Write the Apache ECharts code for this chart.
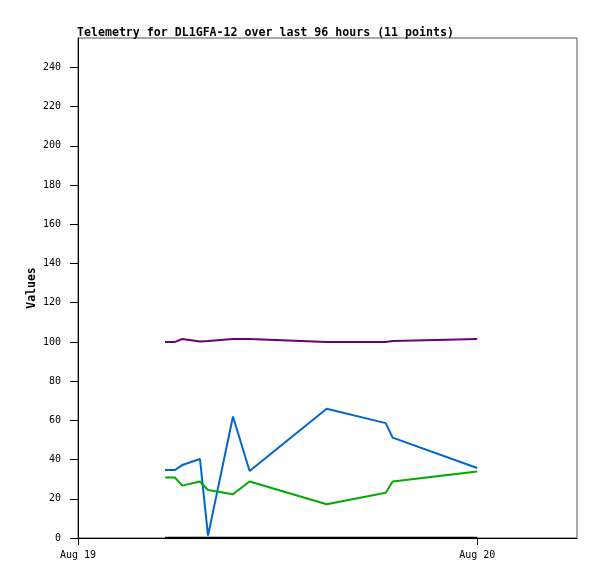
<!DOCTYPE html>
<html>
<head>
<meta charset="utf-8">
<script src="https://cdn.jsdelivr.net/npm/echarts@6/dist/echarts.min.js"></script>
<style>
html,body{margin:0;padding:0;background:#fff;}
#chart{width:597px;height:579px;}
</style>
</head>
<body>
<div id="chart"></div>
<script>
var titleText = 'Telemetry for DL1GFA-12 over last 96 hours (11 points)';
var yAxisName = 'Values';
var times = ['2024-08-19T05:14:00Z','2024-08-19T05:50:00Z','2024-08-19T06:16:00Z','2024-08-19T07:20:00Z','2024-08-19T07:49:00Z','2024-08-19T09:19:00Z','2024-08-19T10:19:00Z','2024-08-19T14:57:00Z','2024-08-19T18:30:00Z','2024-08-19T18:55:00Z','2024-08-20T00:00:00Z'];
var purpleValues = [100, 100, 101.5, 100.2, 100.5, 101.5, 101.5, 100, 100, 100.5, 101.5];
var blueValues = [34.7, 34.7, 37.2, 40.3, 1.2, 62, 34.2, 65.9, 58.6, 51.2, 35.7];
var greenValues = [30.8, 30.8, 26.7, 28.8, 24.5, 22.3, 28.8, 17.2, 23.1, 28.8, 33.9];
var blackValues = [0, 0, 0, 0, 0, 0, 0, 0, 0, 0, 0];
var yTicks = [0, 20, 40, 60, 80, 100, 120, 140, 160, 180, 200, 220, 240];
var xTickDates = ['2024-08-19T00:00:00Z', '2024-08-20T00:00:00Z'];
var xMinDate = '2024-08-19T00:00:00Z';
var xMaxDate = '2024-08-20T06:00:00Z';
var yMax = 255;

var months = ['Jan','Feb','Mar','Apr','May','Jun','Jul','Aug','Sep','Oct','Nov','Dec'];
function ts(s){ return Date.parse(s); }
function pairs(vals){ return vals.map(function(v,i){ return [ts(times[i]), v]; }); }
var mono = 'DejaVu Sans Mono';

var chart = echarts.init(document.getElementById('chart'), null, {renderer:'canvas'});
chart.setOption({
  animation: false,
  backgroundColor: '#fff',
  title: {
    text: titleText, left: 77, top: 27, padding: 0,
    textStyle: {fontFamily: mono, fontWeight: 'bold', fontSize: 11.6, color: '#000'}
  },
  grid: {left: 78, right: 20, top: 38, bottom: 41, show: true, borderColor: '#555', borderWidth: 1, backgroundColor: 'transparent'},
  xAxis: {
    type: 'value', min: ts(xMinDate), max: ts(xMaxDate),
    axisLine: {show: true, lineStyle: {color: '#000', width: 1}},
    axisTick: {show: true, length: 7, lineStyle: {color: '#000'}, customValues: xTickDates.map(ts)},
    axisLabel: {
      customValues: xTickDates.map(ts), margin: 12,
      fontFamily: mono, fontSize: 10, color: '#000',
      formatter: function(v){ var d = new Date(v); return months[d.getUTCMonth()] + ' ' + d.getUTCDate(); }
    },
    splitLine: {show: false}
  },
  yAxis: {
    type: 'value', min: 0, max: yMax,
    name: yAxisName, nameLocation: 'middle', nameGap: 40, nameRotate: 90, nameMoveOverlap: false,
    nameTextStyle: {fontFamily: mono, fontWeight: 'bold', fontSize: 11.5, color: '#000'},
    axisLine: {show: true, lineStyle: {color: '#000', width: 1}},
    axisTick: {show: true, length: 8, lineStyle: {color: '#000'}, customValues: yTicks},
    axisLabel: {customValues: yTicks, margin: 17, fontFamily: mono, fontSize: 10, color: '#000'},
    splitLine: {show: false}
  },
  series: [
    {type: 'line', data: pairs(purpleValues), showSymbol: false, lineStyle: {color: '#6a0075', width: 2}, itemStyle: {color: '#6a0075'}},
    {type: 'line', data: pairs(blueValues), showSymbol: false, lineStyle: {color: '#0066cc', width: 2}, itemStyle: {color: '#0066cc'}},
    {type: 'line', data: pairs(greenValues), showSymbol: false, lineStyle: {color: '#00aa00', width: 2}, itemStyle: {color: '#00aa00'}},
    {type: 'line', data: pairs(blackValues), showSymbol: false, lineStyle: {color: '#000', width: 2.5}, itemStyle: {color: '#000'}}
  ]
});
</script>
</body>
</html>
